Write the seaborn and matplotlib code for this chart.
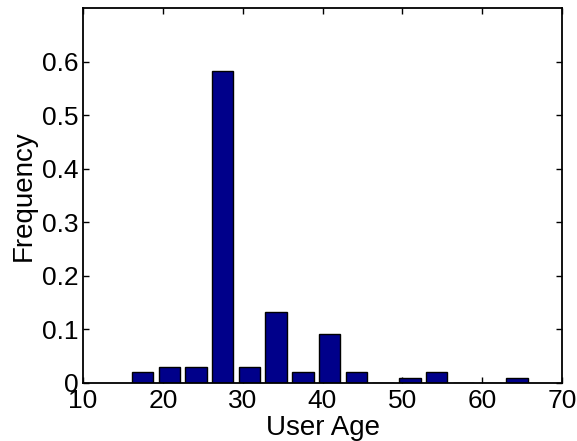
import matplotlib
matplotlib.use("Agg")
import matplotlib.pyplot as plt
import seaborn as sns
import pandas as pd

# Bin centres (user age) and frequencies
age_centers = [17.45, 20.8, 24.15, 27.5, 30.85, 34.2, 37.55, 40.9, 44.25, 47.6, 50.95, 54.3, 57.65, 61.0, 64.35]
frequency = [0.02, 0.03, 0.03, 0.582, 0.03, 0.132, 0.02, 0.091, 0.02, 0.0, 0.01, 0.02, 0.0, 0.0, 0.01]
x_ticks = [10, 20, 30, 40, 50, 60, 70]
y_ticks = [0, 0.1, 0.2, 0.3, 0.4, 0.5, 0.6]

sns.set_theme(style="white")
plt.rcParams['font.family'] = ['Liberation Sans', 'DejaVu Sans']

df = pd.DataFrame({"age": age_centers, "freq": frequency})

fig = plt.figure(figsize=(5.77, 4.41), dpi=100)
ax = fig.add_axes([83/577, 1-383/441, (562-83)/577, (383-8)/441])

sns.barplot(data=df, x="age", y="freq", native_scale=True, width=0.8,
            color="#00008a", saturation=1, edgecolor="black", linewidth=1.0, ax=ax)

ax.set_xlim(10, 70)
ax.set_ylim(0, 0.7)
ax.set_xticks(x_ticks)
ax.set_xticklabels([str(v) for v in x_ticks])
ax.set_yticks(y_ticks)
ax.set_yticklabels(["0"] + [f"{v:.1f}" for v in y_ticks[1:]])
ax.tick_params(axis="both", direction="in", length=4, width=1, color="black",
               labelsize=19, labelcolor="black", top=True, right=True,
               bottom=True, left=True)
ax.tick_params(axis="x", pad=4)
ax.tick_params(axis="y", pad=3)
for s in ax.spines.values():
    s.set_visible(True)
    s.set_color("black")
    s.set_linewidth(1.3)

ax.set_xlabel("User Age", fontsize=20, color="black", labelpad=2)
ax.set_ylabel("Frequency", fontsize=20, color="black", labelpad=4)

fig.savefig("out.png", dpi=100)
